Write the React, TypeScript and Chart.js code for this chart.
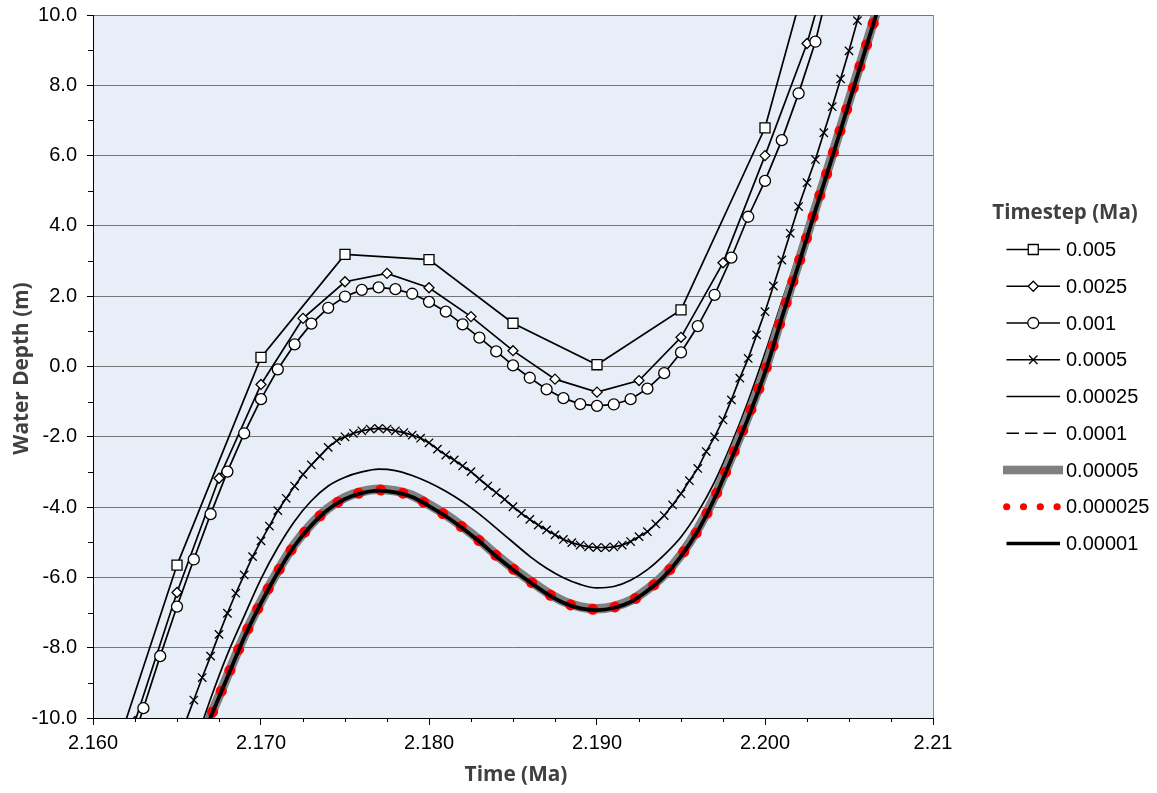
import React, { useEffect, useRef } from 'react';
import { Chart, registerables } from 'chart.js';

Chart.register(...registerables);

// ---------- axis ticks ----------
const X_TICKS = [2.16, 2.17, 2.18, 2.19, 2.2, 2.21];
const X_TICK_LABELS = ['2.160', '2.170', '2.180', '2.190', '2.200', '2.21'];
const X_MINOR_TICKS = [2.1625, 2.165, 2.1675, 2.1725, 2.175, 2.1775, 2.1825, 2.185, 2.1875, 2.1925, 2.195, 2.1975, 2.2025, 2.205, 2.2075];
const Y_TICKS = [-10, -8, -6, -4, -2, 0, 2, 4, 6, 8, 10];
const Y_TICK_LABELS = ['-10.0', '-8.0', '-6.0', '-4.0', '-2.0', '0.0', '2.0', '4.0', '6.0', '8.0', '10.0'];
const Y_MINOR_TICKS = [-9, -7, -5, -3, -1, 1, 3, 5, 7, 9];

const X_TITLE = 'Time (Ma)';
const Y_TITLE = 'Water Depth (m)';
const LEGEND_TITLE = 'Timestep (Ma)';
const TIMESTEPS = ['0.005', '0.0025', '0.001', '0.0005', '0.00025', '0.0001', '0.00005', '0.000025', '0.00001'];

// ---------- data ----------
const T_005 = [2.160, 2.165, 2.170, 2.175, 2.180, 2.185, 2.190, 2.195, 2.200, 2.205];
const D_005 = [-12.9, -5.65, 0.26, 3.19, 3.04, 1.23, 0.05, 1.61, 6.79, 15.5];

const T_0025 = [2.1600, 2.1625, 2.1650, 2.1675, 2.1700, 2.1725, 2.1750, 2.1775, 2.1800, 2.1825,
  2.1850, 2.1875, 2.1900, 2.1925, 2.1950, 2.1975, 2.2000, 2.2025, 2.2050];
const D_0025 = [-13.7, -10.1, -6.43, -3.18, -0.51, 1.37, 2.41, 2.65, 2.24, 1.42,
  0.45, -0.36, -0.73, -0.40, 0.83, 2.95, 6.00, 9.19, 13.4];

const T_001 = [2.162, 2.163, 2.164, 2.165, 2.166, 2.167, 2.168, 2.169, 2.170, 2.171,
  2.172, 2.173, 2.174, 2.175, 2.176, 2.177, 2.178, 2.179, 2.180, 2.181,
  2.182, 2.183, 2.184, 2.185, 2.186, 2.187, 2.188, 2.189, 2.190, 2.191,
  2.192, 2.193, 2.194, 2.195, 2.196, 2.197, 2.198, 2.199, 2.200, 2.201,
  2.202, 2.203, 2.204];
const D_001 = [-11.2, -9.72, -8.24, -6.83, -5.49, -4.20, -2.99, -1.90, -0.93, -0.08,
  0.63, 1.22, 1.67, 1.99, 2.18, 2.25, 2.20, 2.07, 1.84, 1.56,
  1.20, 0.82, 0.43, 0.03, -0.32, -0.65, -0.90, -1.07, -1.12, -1.08,
  -0.93, -0.63, -0.19, 0.40, 1.15, 2.04, 3.10, 4.26, 5.28, 6.44,
  7.77, 9.24, 11.2];

const T_0005 = [2.1650, 2.1655, 2.1660, 2.1665, 2.1670, 2.1675, 2.1680, 2.1685, 2.1690, 2.1695,
  2.1700, 2.1705, 2.1710, 2.1715, 2.1720, 2.1725, 2.1730, 2.1735, 2.1740, 2.1745,
  2.1750, 2.1755, 2.1760, 2.1765, 2.1770, 2.1775, 2.1780, 2.1785, 2.1790, 2.1795,
  2.1800, 2.1805, 2.1810, 2.1815, 2.1820, 2.1825, 2.1830, 2.1835, 2.1840, 2.1845,
  2.1850, 2.1855, 2.1860, 2.1865, 2.1870, 2.1875, 2.1880, 2.1885, 2.1890, 2.1895,
  2.1900, 2.1905, 2.1910, 2.1915, 2.1920, 2.1925, 2.1930, 2.1935, 2.1940, 2.1945,
  2.1950, 2.1955, 2.1960, 2.1965, 2.1970, 2.1975, 2.1980, 2.1985, 2.1990, 2.1995,
  2.2000, 2.2005, 2.2010, 2.2015, 2.2020, 2.2025, 2.2030, 2.2035, 2.2040, 2.2045,
  2.2050, 2.2055, 2.2060];
const D_0005 = [-10.75, -10.12, -9.49, -8.85, -8.24, -7.62, -7.02, -6.45, -5.93, -5.41,
  -4.96, -4.54, -4.10, -3.75, -3.40, -3.07, -2.80, -2.55, -2.30, -2.11,
  -2.00, -1.90, -1.83, -1.78, -1.76, -1.78, -1.83, -1.88, -1.95, -2.04,
  -2.17, -2.35, -2.52, -2.66, -2.83, -2.99, -3.20, -3.40, -3.59, -3.78,
  -3.99, -4.18, -4.35, -4.51, -4.65, -4.79, -4.92, -5.01, -5.08, -5.13,
  -5.15, -5.15, -5.13, -5.08, -4.98, -4.84, -4.70, -4.48, -4.24, -3.94,
  -3.62, -3.25, -2.90, -2.42, -2.00, -1.52, -0.95, -0.33, 0.23, 0.90,
  1.56, 2.29, 3.03, 3.79, 4.55, 5.23, 5.89, 6.65, 7.39, 8.18,
  8.98, 9.84, 10.65];

const T_FINE = [2.165, 2.166, 2.167, 2.168, 2.169, 2.170, 2.171, 2.172, 2.173, 2.174,
  2.175, 2.176, 2.177, 2.178, 2.179, 2.180, 2.181, 2.182, 2.183, 2.184,
  2.185, 2.186, 2.187, 2.188, 2.189, 2.190, 2.191, 2.192, 2.193, 2.194,
  2.195, 2.196, 2.197, 2.198, 2.199, 2.200, 2.201, 2.202, 2.203, 2.204,
  2.205, 2.206, 2.207];
const D_00025 = [-12.1, -10.83, -9.45, -8.19, -7.10, -6.04, -5.15, -4.40, -3.82, -3.40,
  -3.15, -3.00, -2.92, -2.96, -3.10, -3.30, -3.55, -3.85, -4.20, -4.60,
  -5.00, -5.40, -5.74, -6.01, -6.20, -6.30, -6.26, -6.08, -5.78, -5.36,
  -4.85, -4.15, -3.28, -2.20, -0.98, 0.38, 1.85, 3.28, 4.78, 6.28,
  7.80, 9.32, 10.85];
const D_0001 = [-12.1, -11.0, -9.88, -8.74, -7.62, -6.64, -5.78, -5.02, -4.44, -3.98,
  -3.68, -3.50, -3.42, -3.47, -3.60, -3.86, -4.16, -4.50, -4.89, -5.31,
  -5.70, -6.05, -6.38, -6.64, -6.80, -6.85, -6.79, -6.61, -6.29, -5.87,
  -5.29, -4.56, -3.62, -2.49, -1.31, 0.0, 1.52, 3.04, 4.57, 6.08,
  7.62, 9.17, 10.7];
const D_00005 = [-12.15, -11.05, -9.94, -8.80, -7.67, -6.69, -5.82, -5.06, -4.48, -4.03,
  -3.73, -3.56, -3.49, -3.54, -3.67, -3.93, -4.22, -4.56, -4.94, -5.36,
  -5.74, -6.09, -6.42, -6.68, -6.84, -6.89, -6.83, -6.66, -6.34, -5.93,
  -5.36, -4.63, -3.70, -2.58, -1.40, -0.10, 1.44, 2.96, 4.50, 6.01,
  7.56, 9.11, 10.65];
const D_000025 = [-12.18, -11.08, -9.96, -8.82, -7.69, -6.71, -5.84, -5.08, -4.50, -4.05,
  -3.75, -3.58, -3.51, -3.56, -3.69, -3.95, -4.24, -4.58, -4.96, -5.38,
  -5.76, -6.11, -6.44, -6.70, -6.86, -6.91, -6.85, -6.68, -6.36, -5.95,
  -5.38, -4.66, -3.73, -2.61, -1.43, -0.14, 1.41, 2.93, 4.47, 5.98,
  7.53, 9.08, 10.62];
const D_00001 = [-12.2, -11.1, -9.98, -8.84, -7.71, -6.73, -5.86, -5.10, -4.52, -4.07,
  -3.77, -3.60, -3.53, -3.58, -3.71, -3.97, -4.26, -4.60, -4.98, -5.40,
  -5.78, -6.13, -6.46, -6.72, -6.88, -6.93, -6.87, -6.70, -6.38, -5.97,
  -5.40, -4.68, -3.75, -2.63, -1.46, -0.17, 1.38, 2.90, 4.44, 5.95,
  7.50, 9.05, 10.6];

// ---------- styling ----------
const PLOT_BG = '#E8EEF7';
const GRID_COLOR = '#767676';
const FRAME_COLOR = '#8C8C8C';
const TITLE_COLOR = '#404040';
const TICK_FONT = '"Liberation Sans", Arial, sans-serif';
const TITLE_FONT = '"Open Sans", "Liberation Sans", sans-serif';

const pts = (t: number[], d: number[]) => t.map((x, i) => ({ x, y: d[i] }));

function drawMarker(ctx: CanvasRenderingContext2D, kind: string, x: number, y: number) {
  ctx.save();
  ctx.fillStyle = '#fff';
  ctx.strokeStyle = '#000';
  ctx.lineWidth = 1.3;
  ctx.beginPath();
  if (kind === 'square') {
    ctx.rect(x - 5, y - 5, 10, 10);
    ctx.fill();
    ctx.stroke();
  } else if (kind === 'diamond') {
    ctx.moveTo(x - 5, y);
    ctx.lineTo(x, y - 5);
    ctx.lineTo(x + 5, y);
    ctx.lineTo(x, y + 5);
    ctx.closePath();
    ctx.fill();
    ctx.stroke();
  } else if (kind === 'circle') {
    ctx.arc(x, y, 5.5, 0, Math.PI * 2);
    ctx.fill();
    ctx.stroke();
  } else if (kind === 'cross') {
    const o = 4.2;
    ctx.moveTo(x - o, y - o);
    ctx.lineTo(x + o, y + o);
    ctx.moveTo(x + o, y - o);
    ctx.lineTo(x - o, y + o);
    ctx.stroke();
  }
  ctx.restore();
}

const decor = {
  id: 'decor',
  beforeDraw(chart: any) {
    const { ctx, chartArea: a } = chart;
    ctx.save();
    ctx.fillStyle = PLOT_BG;
    ctx.fillRect(a.left, a.top, a.right - a.left, a.bottom - a.top);
    ctx.restore();
  },
  afterDraw(chart: any) {
    const { ctx, chartArea: a } = chart;
    const xs = chart.scales.x;
    const ys = chart.scales.y;
    ctx.save();
    // right frame
    ctx.strokeStyle = FRAME_COLOR;
    ctx.lineWidth = 1;
    ctx.beginPath();
    ctx.moveTo(Math.round(a.right) + 0.5, a.top);
    ctx.lineTo(Math.round(a.right) + 0.5, a.bottom);
    ctx.stroke();
    // minor ticks
    ctx.strokeStyle = '#000';
    ctx.beginPath();
    X_MINOR_TICKS.forEach((v) => {
      const px = Math.round(xs.getPixelForValue(v)) + 0.5;
      ctx.moveTo(px, a.bottom);
      ctx.lineTo(px, a.bottom + 4);
    });
    Y_MINOR_TICKS.forEach((v) => {
      const py = Math.round(ys.getPixelForValue(v)) + 0.5;
      ctx.moveTo(a.left - 5, py);
      ctx.lineTo(a.left, py);
    });
    ctx.stroke();

    // axis titles
    ctx.fillStyle = TITLE_COLOR;
    ctx.font = `bold 20.8px ${TITLE_FONT}`;
    ctx.textAlign = 'center';
    ctx.textBaseline = 'middle';
    ctx.fillText(X_TITLE, (a.left + a.right) / 2 + 3, 775);
    ctx.save();
    ctx.translate(22, (a.top + a.bottom) / 2 + 2);
    ctx.rotate(-Math.PI / 2);
    ctx.fillText(Y_TITLE, 0, 0);
    ctx.restore();

    // legend
    ctx.font = `bold 20.5px ${TITLE_FONT}`;
    ctx.fillText(LEGEND_TITLE, 1065, 213);
    const x0 = 1006.5;
    const x1 = 1060;
    const xc = (x0 + x1) / 2;
    const rowY0 = 249.5;
    const rowH = 36.75;
    ctx.font = `20px ${TICK_FONT}`;
    ctx.textAlign = 'left';
    ctx.fillStyle = '#000';
    TIMESTEPS.forEach((label, i) => {
      const y = rowY0 + i * rowH;
      ctx.save();
      ctx.strokeStyle = '#000';
      ctx.lineWidth = 1.6;
      ctx.setLineDash([]);
      if (i <= 4) {
        ctx.beginPath();
        ctx.moveTo(x0, y);
        ctx.lineTo(x1, y);
        ctx.stroke();
        if (i === 0) drawMarker(ctx, 'square', xc, y);
        if (i === 1) drawMarker(ctx, 'diamond', xc, y);
        if (i === 2) drawMarker(ctx, 'circle', xc, y);
        if (i === 3) drawMarker(ctx, 'cross', xc, y);
      } else if (i === 5) {
        ctx.setLineDash([12.5, 6]);
        ctx.beginPath();
        ctx.moveTo(x0, y);
        ctx.lineTo(x1 - 4, y);
        ctx.stroke();
      } else if (i === 6) {
        ctx.fillStyle = '#808080';
        ctx.fillRect(1003, y - 4.3, 60, 8.6);
      } else if (i === 7) {
        ctx.fillStyle = '#FF0000';
        [1006.7, 1023.5, 1040.3, 1057.1].forEach((cx) => {
          ctx.beginPath();
          ctx.arc(cx, y, 3.6, 0, Math.PI * 2);
          ctx.fill();
        });
      } else {
        ctx.lineWidth = 3.5;
        ctx.beginPath();
        ctx.moveTo(x0, y);
        ctx.lineTo(x1, y);
        ctx.stroke();
      }
      ctx.restore();
      ctx.fillText(label, 1066, y + 1);
    });
    ctx.restore();
  },
};

export default function App() {
  const ref = useRef<HTMLCanvasElement>(null);

  useEffect(() => {
    const canvas = ref.current;
    if (!canvas) return;
    const n = TIMESTEPS.length;
    const base = {
      borderColor: '#000',
      backgroundColor: '#fff',
      pointBackgroundColor: '#fff',
      pointBorderColor: '#000',
      pointBorderWidth: 1.3,
      clip: 0,
      fill: false,
    };
    const datasets: any[] = [
      { ...base, label: TIMESTEPS[0], data: pts(T_005, D_005), borderWidth: 1.7, pointStyle: 'rect', pointRadius: 7.1, tension: 0, order: n - 0 },
      { ...base, label: TIMESTEPS[1], data: pts(T_0025, D_0025), borderWidth: 1.7, pointStyle: 'rectRot', pointRadius: 5, tension: 0, order: n - 1 },
      { ...base, label: TIMESTEPS[2], data: pts(T_001, D_001), borderWidth: 1.7, pointStyle: 'circle', pointRadius: 5.5, tension: 0, order: n - 2 },
      { ...base, label: TIMESTEPS[3], data: pts(T_0005, D_0005), borderWidth: 1.7, pointStyle: 'crossRot', pointRadius: 5.9, tension: 0, order: n - 3 },
      { ...base, label: TIMESTEPS[4], data: pts(T_FINE, D_00025), borderWidth: 1.7, pointRadius: 0, cubicInterpolationMode: 'monotone', order: n - 4 },
      { ...base, label: TIMESTEPS[5], data: pts(T_FINE, D_0001), borderColor: '#303030', borderWidth: 1.7, borderDash: [12, 6], pointRadius: 0, cubicInterpolationMode: 'monotone', order: n - 5 },
      { ...base, label: TIMESTEPS[6], data: pts(T_FINE, D_00005), borderColor: '#808080', borderWidth: 9.5, pointRadius: 0, cubicInterpolationMode: 'monotone', order: n - 6 },
      { ...base, label: TIMESTEPS[7], data: pts(T_FINE, D_000025), borderColor: '#FF0000', borderWidth: 11, borderDash: [0.01, 22.5], borderCapStyle: 'round', pointRadius: 0, cubicInterpolationMode: 'monotone', order: n - 7 },
      { ...base, label: TIMESTEPS[8], data: pts(T_FINE, D_00001), borderWidth: 3.8, pointRadius: 0, cubicInterpolationMode: 'monotone', order: n - 8 },
    ];

    const chart = new Chart(canvas, {
      type: 'line',
      data: { datasets },
      options: {
        animation: false,
        responsive: false,
        maintainAspectRatio: false,
        devicePixelRatio: 1,
        layout: { padding: { top: 15, right: 224, left: 0, bottom: 0 } },
        plugins: { legend: { display: false }, tooltip: { enabled: false }, title: { display: false } },
        events: [],
        scales: {
          x: {
            type: 'linear',
            min: 2.16,
            max: 2.21,
            afterBuildTicks: (s: any) => { s.ticks = X_TICKS.map((v) => ({ value: v })); },
            afterFit: (s: any) => { s.height = 75; s.paddingLeft = 0; s.paddingRight = 0; },
            ticks: {
              autoSkip: false,
              maxRotation: 0,
              minRotation: 0,
              padding: 6,
              color: '#000',
              font: { family: TICK_FONT, size: 20 },
              callback: (_v: any, i: number) => X_TICK_LABELS[i],
            },
            grid: { drawOnChartArea: false, drawTicks: true, tickLength: 7, tickColor: '#000', tickWidth: 1 },
            border: { display: true, color: '#000', width: 1 },
          },
          y: {
            type: 'linear',
            min: -10,
            max: 10,
            afterBuildTicks: (s: any) => { s.ticks = Y_TICKS.map((v) => ({ value: v })); },
            afterFit: (s: any) => { s.width = 93; s.paddingTop = 0; s.paddingBottom = 0; },
            ticks: {
              autoSkip: false,
              padding: 10,
              color: '#000',
              font: { family: TICK_FONT, size: 20 },
              callback: (_v: any, i: number) => Y_TICK_LABELS[i],
            },
            grid: { color: GRID_COLOR, lineWidth: 1, drawTicks: true, tickLength: 6, tickColor: '#000', tickWidth: 1 },
            border: { display: true, color: '#000', width: 1 },
          },
        },
      } as any,
      plugins: [decor],
    });
    return () => chart.destroy();
  }, []);

  return (
    <div style={{ position: 'absolute', left: 0, top: 0, width: 1157, height: 793, background: '#fff' }}>
      <canvas ref={ref} width={1157} height={793} style={{ display: 'block', width: 1157, height: 793 }} />
    </div>
  );
}
